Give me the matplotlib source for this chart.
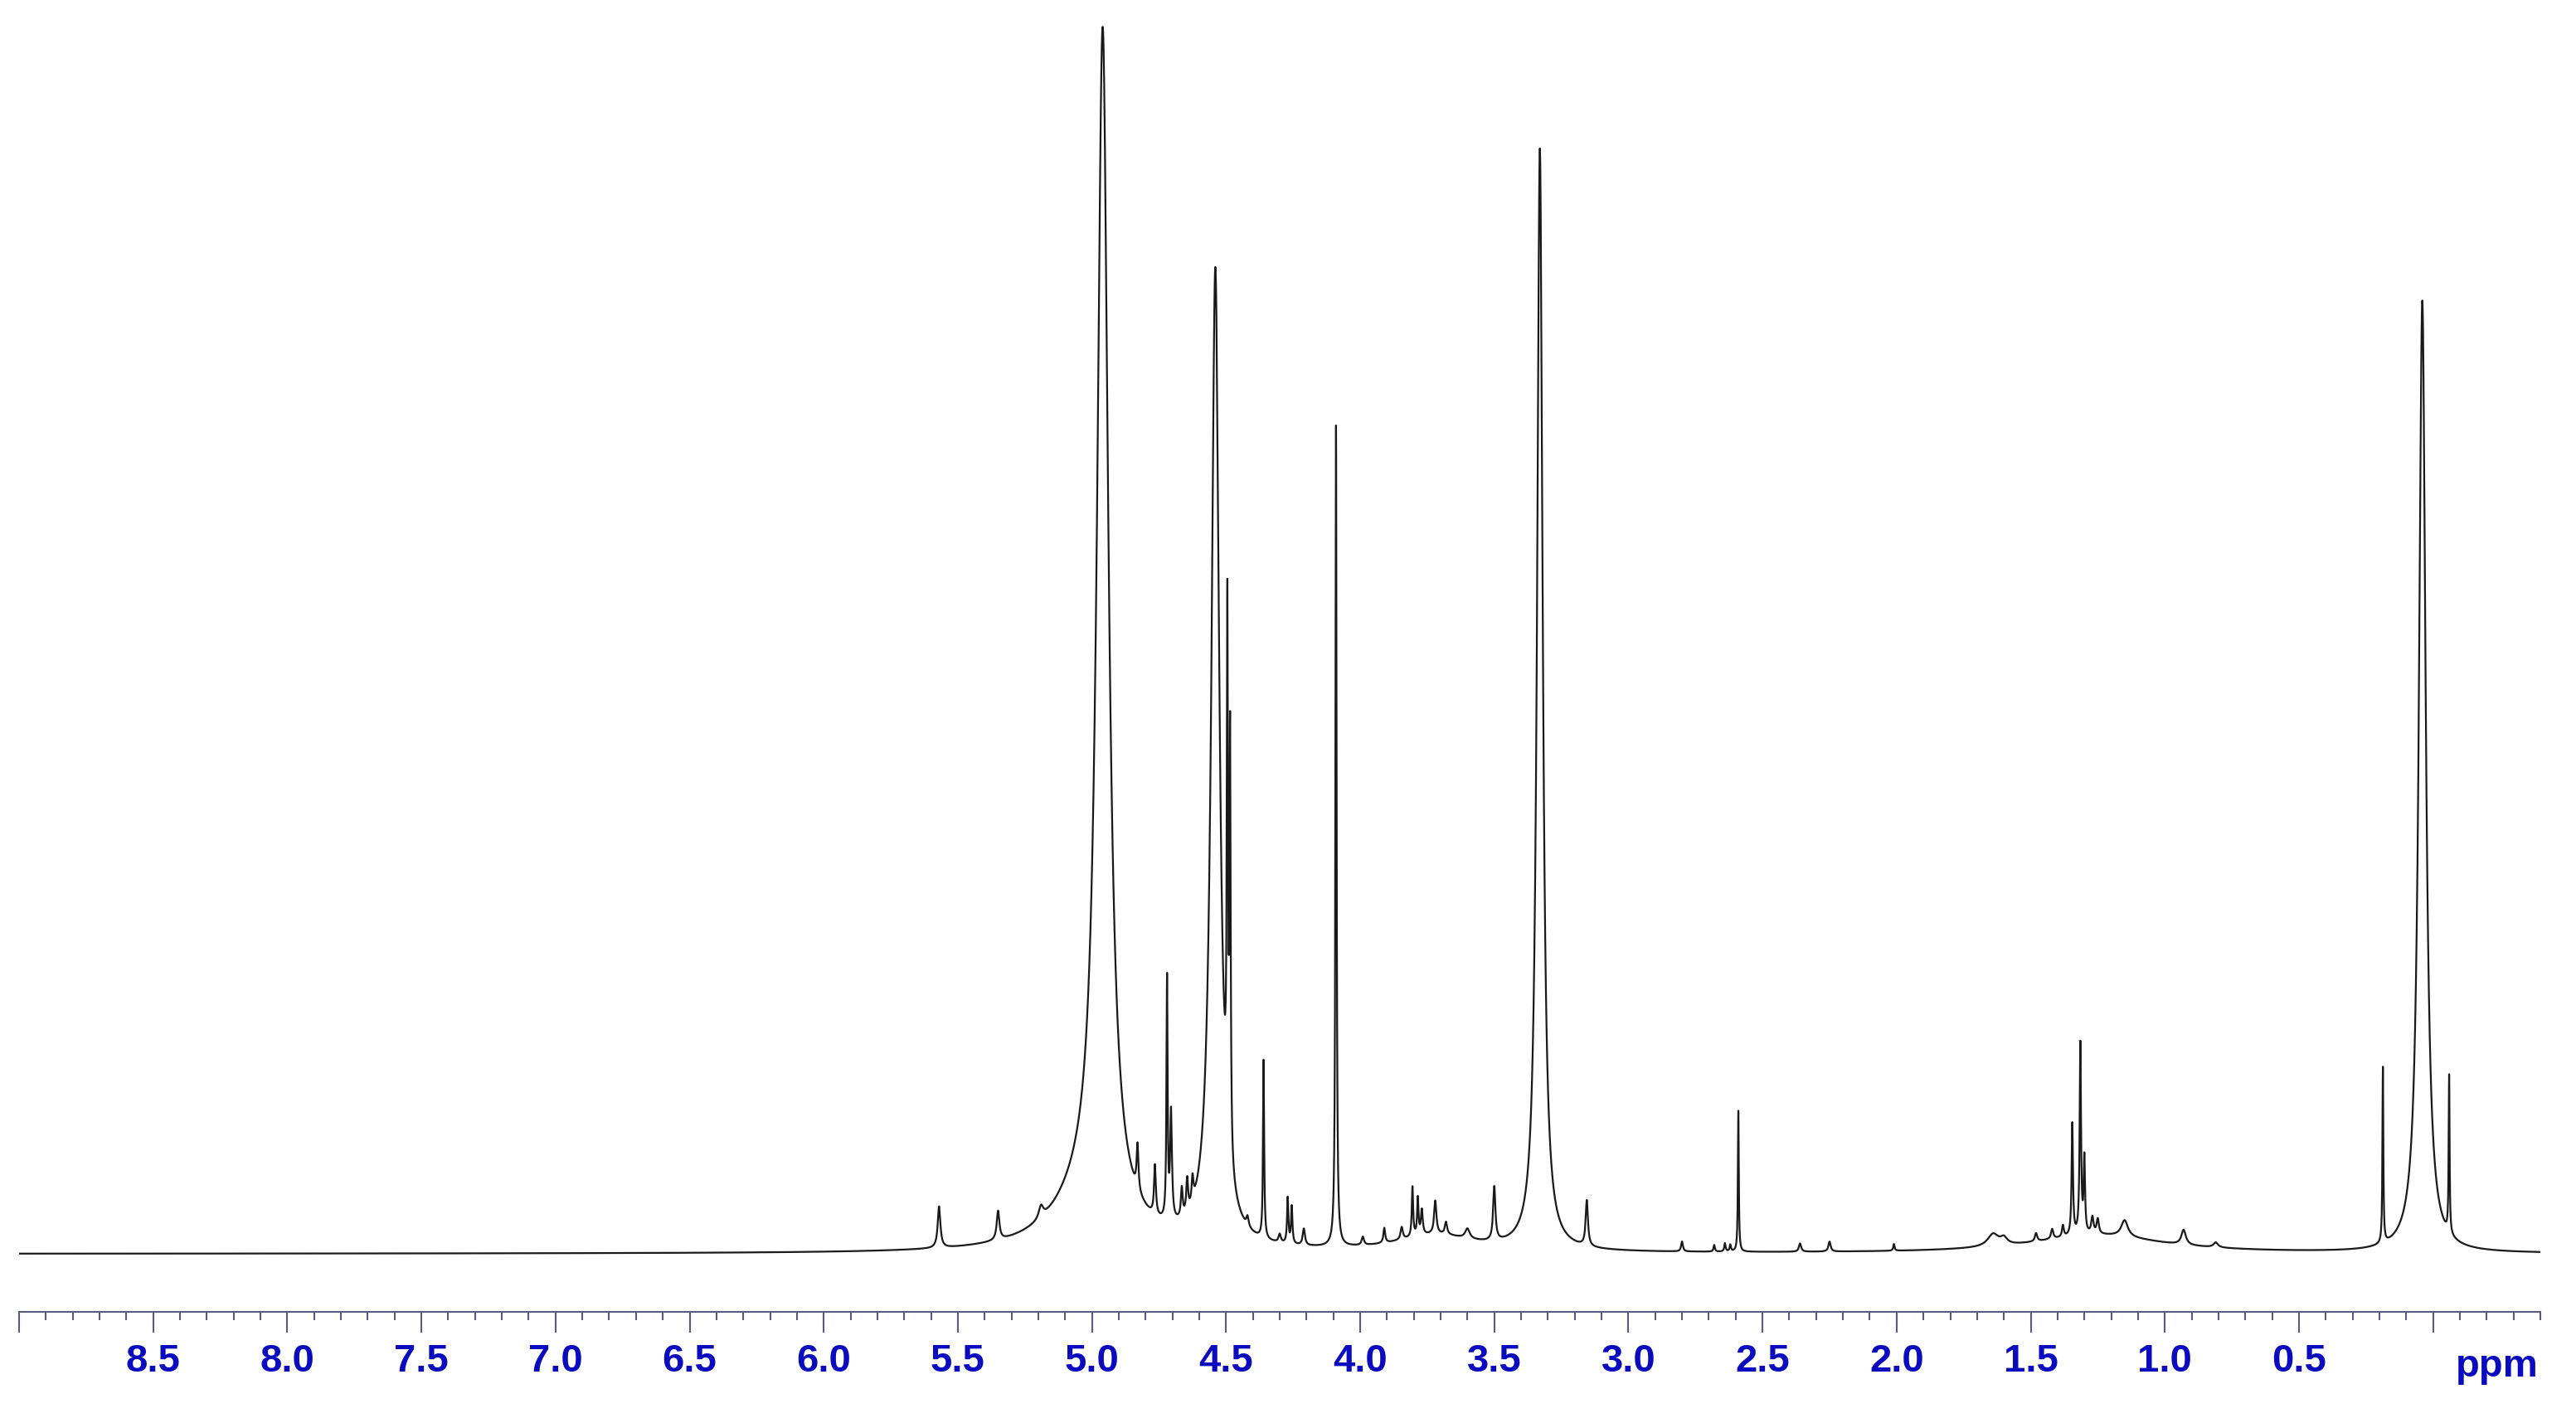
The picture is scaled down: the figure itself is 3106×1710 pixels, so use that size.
import numpy as np
import matplotlib
matplotlib.use("Agg")
import matplotlib.pyplot as plt
from matplotlib.ticker import FixedLocator, MultipleLocator

# peak list (ppm, height above baseline, line width in ppm)
peak_ppm = [5.57, 5.35, 5.19, 5.02, 4.96, 4.83, 4.765, 4.72, 4.705, 4.665, 4.645, 4.625,
            4.54, 4.495, 4.485, 4.42, 4.36, 4.30, 4.27, 4.255, 4.21, 4.09,
            3.99, 3.91, 3.72, 3.845, 3.805, 3.785, 3.77, 3.72, 3.68, 3.60, 3.50,
            3.33, 3.155, 2.80, 2.68, 2.64, 2.62, 2.59, 2.36, 2.25, 2.01,
            1.25, 1.64, 1.60, 1.48, 1.42, 1.38, 1.345, 1.315, 1.30, 1.27, 1.25,
            1.15, 0.93, 0.81, 0.187, 0.04, -0.06]
peak_height = [50, 35, 15, 60, 1425, 55, 60, 290, 130, 35, 40, 30,
               1175, 620, 500, 12, 215, 10, 55, 45, 20, 990,
               10, 18, 20, 15, 60, 45, 30, 40, 15, 12, 65,
               1328, 55, 12, 8, 10, 8, 170, 10, 12, 8,
               22, 15, 8, 10, 12, 14, 135, 230, 90, 20, 18,
               20, 18, 6, 212, 1148, 190]
peak_width = [0.012, 0.012, 0.02, 0.30, 0.05, 0.008, 0.008, 0.005, 0.008, 0.008, 0.008, 0.008,
              0.035, 0.005, 0.005, 0.01, 0.005, 0.01, 0.006, 0.006, 0.01, 0.005,
              0.01, 0.008, 0.35, 0.01, 0.006, 0.006, 0.008, 0.01, 0.01, 0.02, 0.01,
              0.025, 0.01, 0.008, 0.006, 0.006, 0.006, 0.004, 0.01, 0.01, 0.006,
              0.6, 0.05, 0.03, 0.01, 0.01, 0.008, 0.006, 0.006, 0.006, 0.01, 0.01,
              0.03, 0.02, 0.02, 0.004, 0.03, 0.004]

major_ticks = [9.0, 8.5, 8.0, 7.5, 7.0, 6.5, 6.0, 5.5, 5.0, 4.5, 4.0, 3.5, 3.0, 2.5, 2.0, 1.5, 1.0, 0.5, 0.0]
tick_labels = ['', '8.5', '8.0', '7.5', '7.0', '6.5', '6.0', '5.5', '5.0', '4.5', '4.0',
               '3.5', '3.0', '2.5', '2.0', '1.5', '1.0', '0.5', '']

# build the trace from the peak list (lorentzian lines)
ppm = np.arange(-0.4, 9.0005, 0.0005)
spec = np.zeros_like(ppm)
for c, h, w in zip(peak_ppm, peak_height, peak_width):
    hw = w / 2
    spec += h * hw**2 / ((ppm - c)**2 + hw**2)

fig = plt.figure(figsize=(31.06, 17.10), dpi=100)
ax = fig.add_axes([23 / 3106, 128 / 1710, 3040 / 3106, 1582 / 1710])
ax.plot(ppm, spec, color='#1a1a1a', lw=1.6)
ax.set_xlim(9.0, -0.4)
ax.set_ylim(-70, 1512)

axis_col = '#5a5a80'
for s in ['top', 'left', 'right']:
    ax.spines[s].set_visible(False)
ax.spines['bottom'].set_color(axis_col)
ax.spines['bottom'].set_linewidth(1.5)
ax.set_yticks([])

ax.xaxis.set_major_locator(FixedLocator(major_ticks))
ax.set_xticklabels(tick_labels)
ax.xaxis.set_minor_locator(MultipleLocator(0.1))
ax.tick_params(axis='x', which='major', length=18, width=1.5, color=axis_col,
               direction='out', pad=9, labelsize=34, labelcolor='#0a0abe')
ax.tick_params(axis='x', which='minor', length=7.5, width=1.5, color=axis_col, direction='out')
for lab in ax.get_xticklabels():
    lab.set_fontfamily(['Liberation Sans', 'DejaVu Sans'])
    lab.set_fontweight('bold')

# unit label sits on the same baseline as the tick numbers
ax.text(-0.24, -78 / 1582, 'ppm', transform=ax.get_xaxis_transform(), ha='center', va='baseline',
        fontsize=34, fontweight='bold', color='#0a0abe', family=['Liberation Sans', 'DejaVu Sans'])

fig.savefig('out.png', dpi=100, facecolor='white')
